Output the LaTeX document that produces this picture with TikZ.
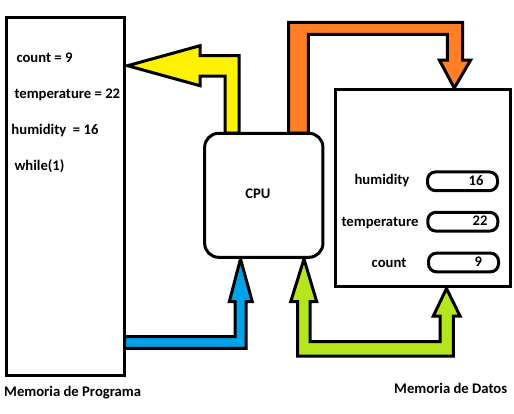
\documentclass[tikz,border=0pt]{standalone}
\usepackage{fontspec}
\setmainfont{Carlito}
\definecolor{paintyellow}{HTML}{FFF200}
\definecolor{paintorange}{HTML}{FF7F27}
\definecolor{paintblue}{HTML}{00A2E8}
\definecolor{paintgreen}{HTML}{B5E61D}

\begin{document}
\begin{tikzpicture}[x=1pt,y=-1pt,line width=3pt]
\tikzstyle{every node}+=[inner sep=0pt,font=\fontsize{14.67}{17}\selectfont\bfseries]
\tikzstyle{membox}=[draw,black,fill=white,line width=3pt]
\tikzstyle{cpubox}=[draw,black,fill=white,line width=3pt,rounded corners=14pt,minimum width=118.3pt,minimum height=124pt]
\tikzstyle{valbox}=[draw,black,fill=white,line width=3pt,rounded corners=8pt,minimum width=70pt,minimum height=18.7pt]
\useasboundingbox (0,0) rectangle (514,413);
\filldraw [black,fill=paintyellow] (239,133) -- (239,55.7) -- (200,55.7) -- (200,45.7) -- (127.5,65.7) -- (200,85.7) -- (200,76) -- (225,76) -- (225,133) -- cycle;
\filldraw [black,fill=paintorange] (288.7,133) -- (288.7,22.3) -- (462.7,22.3) -- (462.7,60) -- (470.7,60) -- (454.3,88) -- (439.3,60) -- (447.3,60) -- (447.3,34.3) -- (308.3,34.3) -- (308.3,133) -- cycle;
\filldraw [black,fill=paintblue] (124.5,336.7) -- (235,336.7) -- (235,301.7) -- (229.3,301.7) -- (240.5,259) -- (252.3,301.7) -- (246,301.7) -- (246,348.3) -- (124.5,348.3) -- cycle;
\filldraw [black,fill=paintgreen] (304,259) -- (316.7,301.7) -- (310,301.7) -- (310,341.7) -- (440,341.7) -- (440,316) -- (433.3,316) -- (446.5,288.5) -- (460,316) -- (453.3,316) -- (453.3,356) -- (297.7,356) -- (297.7,301.7) -- (290.7,301.7) -- cycle;
\node [membox,minimum width=118pt,minimum height=357.5pt] (prog) at (65.5,196.25) {};
\node [cpubox] (cpu) at (263.8,195.3) {};
\node [membox,minimum width=175.2pt,minimum height=197pt] (datos) at (423.1,188.2) {};
\node [valbox] (vhum) at (462.5,181.3) {};
\node [valbox] (vtemp) at (462.8,221.7) {};
\node [valbox] (vcount) at (463.5,262.5) {};
\node [anchor=base west] (pcount) at (15,62.5) {count = 9};
\node [anchor=base west] (ptemp) at (13,98.5) {temperature = 22};
\node [anchor=base west] (phum) at (10,134) {humidity\ \ = 16};
\node [anchor=base west] (pwhile) at (13,170) {while(1)};
\node [anchor=base] (cpulabel) at (258,198.3) {CPU};
\node [anchor=base] (dhum) at (382,184.3) {humidity};
\node [anchor=base] (dtemp) at (380,226.7) {temperature};
\node [anchor=base] (dcount) at (389,267.3) {count};
\node [anchor=base] (nhum) at (476,185) {16};
\node [anchor=base] (ntemp) at (480,225.7) {22};
\node [anchor=base] (ncount) at (478.3,266) {9};
\node [anchor=base west] (progname) at (2.7,396.7) {Memoria de Programa};
\node [anchor=base west] (datosname) at (392.7,393.3) {Memoria de Datos};
\end{tikzpicture}
\end{document}
